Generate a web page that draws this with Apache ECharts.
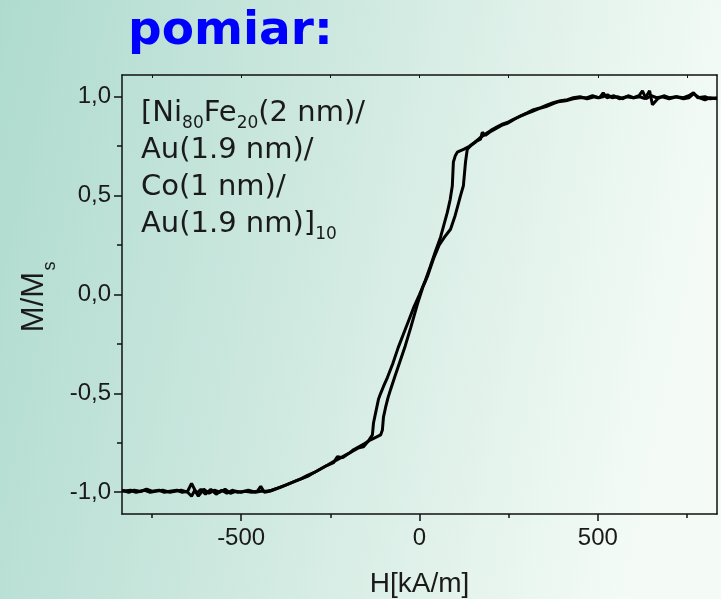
<!DOCTYPE html>
<html lang="pl">
<head>
<meta charset="UTF-8">
<title>pomiar</title>
<script src="https://cdn.jsdelivr.net/npm/echarts@6/dist/echarts.min.js"></script>
<style>
  html, body { margin: 0; padding: 0; }
</style>
</head>
<body>
<div id="main" style="width: 721px; height: 599px;"></div>
<script type="text/javascript">
// pętla histerezy - gałąź malejąca (H od +max do -max)
var hDesc = [834, 815, 800, 785, 768, 755, 740, 720, 700, 685, 668, 653, 645, 632, 618, 600, 585, 570, 555, 540,
  527, 515, 500, 485, 470, 450, 431, 410, 390, 375, 355, 335, 315, 300, 280, 262, 246, 230, 215, 200,
  188, 176, 168, 155, 140, 125, 112, 106, 100, 95, 92, 86, 78, 68, 59, 45, 30, 15, 0, -15,
  -30, -45, -60, -75, -90, -101, -110, -115, -122, -129, -132, -145, -157, -170, -185, -200, -215, -230, -241, -260,
  -280, -300, -314, -335, -350, -370, -390, -405, -420, -435, -445, -455, -470, -490, -510, -525, -540, -555, -570, -585,
  -600, -613, -625, -639, -650, -665, -680, -700, -715, -730, -750, -765, -780, -795, -810, -834];
var mDesc = [0.990, 0.995, 0.985, 0.995, 1.015, 0.995, 0.990, 1.000, 0.995, 1.005, 0.990, 0.960, 1.030, 0.990, 1.000, 0.995, 1.005, 0.990, 1.000, 0.995,
  1.010, 1.000, 0.995, 1.005, 0.995, 0.995, 0.990, 0.980, 0.975, 0.965, 0.950, 0.940, 0.925, 0.915, 0.900, 0.885, 0.870, 0.860, 0.845, 0.830,
  0.815, 0.800, 0.790, 0.770, 0.750, 0.735, 0.725, 0.720, 0.700, 0.670, 0.550, 0.480, 0.415, 0.350, 0.290, 0.220, 0.140, 0.065, 0.000, -0.060,
  -0.130, -0.200, -0.270, -0.350, -0.420, -0.465, -0.505, -0.530, -0.590, -0.650, -0.710, -0.745, -0.770, -0.775, -0.790, -0.805, -0.825, -0.820, -0.850, -0.865,
  -0.885, -0.905, -0.920, -0.935, -0.945, -0.960, -0.975, -0.985, -0.995, -1.000, -0.970, -0.995, -1.000, -0.995, -1.000, -0.990, -1.005, -0.990, -1.010, -0.985,
  -1.010, -0.985, -1.005, -0.955, -0.995, -1.000, -0.990, -0.995, -1.000, -0.990, -0.995, -0.985, -0.995, -1.000, -0.990, -0.995];

// gałąź rosnąca (H od -max do +max)
var hAsc = [-834, -815, -800, -785, -770, -755, -740, -720, -700, -685, -668, -650, -639, -630, -620, -605, -590, -575, -560, -545,
  -530, -515, -500, -480, -460, -445, -430, -415, -400, -385, -370, -350, -330, -314, -295, -275, -255, -241, -225, -210,
  -195, -185, -170, -155, -137, -120, -109, -104, -101, -95, -88, -81, -70, -55, -40, -25, -6, 10, 22, 39,
  55, 70, 87, 100, 109, 115, 123, 129, 134, 145, 160, 171, 176, 185, 200, 215, 230, 246, 265, 285,
  303, 320, 340, 360, 375, 395, 415, 431, 450, 470, 490, 505, 515, 525, 545, 560, 580, 600, 615, 625,
  635, 650, 665, 680, 700, 720, 740, 755, 768, 780, 800, 815, 834];
var mAsc = [-0.990, -1.000, -0.990, -0.995, -0.990, -1.000, -0.995, -0.990, -1.000, -0.995, -0.990, -1.000, -1.020, -0.990, -1.020, -0.985, -1.005, -0.990, -1.000, -0.985,
  -1.005, -0.995, -1.000, -0.990, -1.000, -0.995, -0.995, -0.990, -0.980, -0.970, -0.960, -0.945, -0.930, -0.915, -0.900, -0.880, -0.860, -0.845, -0.830, -0.815,
  -0.800, -0.785, -0.770, -0.755, -0.735, -0.720, -0.710, -0.685, -0.620, -0.570, -0.520, -0.480, -0.420, -0.340, -0.260, -0.170, -0.050, 0.040, 0.090, 0.180,
  0.250, 0.290, 0.330, 0.400, 0.460, 0.500, 0.550, 0.670, 0.735, 0.755, 0.775, 0.785, 0.820, 0.805, 0.825, 0.840, 0.855, 0.865, 0.885, 0.905,
  0.920, 0.935, 0.945, 0.960, 0.970, 0.980, 0.985, 0.995, 1.000, 0.990, 1.000, 0.995, 1.020, 0.995, 1.005, 0.990, 1.000, 0.995, 1.005, 1.030,
  0.990, 1.005, 0.995, 1.000, 0.990, 1.000, 0.995, 1.005, 1.020, 0.995, 1.000, 0.990, 0.995];

// podziałki osi
var xMajor = [-500, 0, 500];
var xMinor = [-750, -250, 250, 750];
var yMajor = [-1, -0.5, 0, 0.5, 1];
var yMinor = [-0.75, -0.25, 0.25, 0.75];

function zip(xs, ys) {
  var out = [];
  for (var i = 0; i < xs.length; i++) out.push([xs[i], ys[i]]);
  return out;
}

var myChart = echarts.init(document.getElementById('main'));

var xMin = -834, xMax = 834, yMin = -1.11, yMax = 1.11;
var axisCol = '#111';
var sans = '"Liberation Sans", Arial, sans-serif';
var verd = '"DejaVu Sans", Verdana, sans-serif';
var tickFont = { fontSize: 24, color: '#1a1a1a', fontFamily: sans };

var option = {
  animation: false,
  backgroundColor: new echarts.graphic.LinearGradient(0, 0, 1, 0.25, [
    { offset: 0, color: '#afdbcf' },
    { offset: 0.45, color: '#cde8df' },
    { offset: 1, color: '#f4fbf6' }
  ]),
  title: {
    text: 'pomiar:',
    left: 123,
    top: 3,
    textStyle: { fontFamily: verd, fontWeight: 'bold', fontSize: 47, color: '#0000ff' }
  },
  grid: { left: 122, right: 4, top: 75, bottom: 85, containLabel: false, outerBoundsMode: 'none' },
  xAxis: [
    {
      type: 'value', position: 'bottom', min: xMin, max: xMax,
      axisLine: { show: true, onZero: false, lineStyle: { color: axisCol, width: 1.5 } },
      axisTick: { show: true, length: 7, customValues: xMajor, lineStyle: { color: axisCol, width: 1.5 } },
      axisLabel: Object.assign({ margin: 12, customValues: xMajor }, tickFont),
      splitLine: { show: false },
      name: 'H[kA/m]', nameLocation: 'middle', nameGap: 56,
      nameTextStyle: { fontSize: 28, color: '#1a1a1a', fontFamily: sans }
    },
    {
      type: 'value', position: 'bottom', min: xMin, max: xMax,
      axisLine: { show: false, onZero: false },
      axisTick: { show: true, length: 4, customValues: xMinor, lineStyle: { color: axisCol, width: 1.5 } },
      axisLabel: { show: false },
      splitLine: { show: false }
    },
    {
      type: 'value', position: 'top', min: xMin, max: xMax,
      axisLine: { show: true, onZero: false, lineStyle: { color: axisCol, width: 1.5 } },
      axisTick: { show: true, inside: true, length: 3, customValues: xMajor.concat(xMinor), lineStyle: { color: axisCol, width: 1 } },
      axisLabel: { show: false },
      splitLine: { show: false }
    }
  ],
  yAxis: [
    {
      type: 'value', position: 'left', min: yMin, max: yMax,
      axisLine: { show: true, onZero: false, lineStyle: { color: axisCol, width: 1.5 } },
      axisTick: { show: true, length: 8, customValues: yMajor, lineStyle: { color: axisCol, width: 1.5 } },
      axisLabel: Object.assign({
        margin: 11, customValues: yMajor,
        formatter: function (v) { return v.toFixed(1).replace('.', ','); }
      }, tickFont),
      splitLine: { show: false }
    },
    {
      type: 'value', position: 'left', min: yMin, max: yMax,
      axisLine: { show: false, onZero: false },
      axisTick: { show: true, length: 5, customValues: yMinor, lineStyle: { color: axisCol, width: 1.5 } },
      axisLabel: { show: false },
      splitLine: { show: false }
    },
    {
      type: 'value', position: 'right', min: yMin, max: yMax,
      axisLine: { show: true, onZero: false, lineStyle: { color: axisCol, width: 1.5 } },
      axisTick: { show: false },
      axisLabel: { show: false },
      splitLine: { show: false }
    }
  ],
  graphic: [
    // opis osi Y: M/M z indeksem dolnym s
    {
      type: 'text', x: 34, y: 302, rotation: Math.PI / 2,
      style: { text: 'M/M', font: '31px ' + sans, fill: '#1a1a1a', align: 'center', verticalAlign: 'middle' }
    },
    {
      type: 'text', x: 50, y: 266, rotation: Math.PI / 2,
      style: { text: 's', font: '18px ' + sans, fill: '#1a1a1a', align: 'center', verticalAlign: 'middle' }
    },
    {
      type: 'text',
      left: 141,
      top: 95,
      style: {
        text: '[Ni{s|80}Fe{s|20}(2 nm)/\nAu(1.9 nm)/\nCo(1 nm)/\nAu(1.9 nm)]{s|10}',
        fill: '#1a1a1a',
        font: '29px ' + verd,
        lineHeight: 37,
        rich: {
          s: { fontSize: 17, fontFamily: verd, fill: '#1a1a1a', verticalAlign: 'bottom', lineHeight: 24 }
        }
      }
    }
  ],
  series: [
    {
      name: 'malejąca', type: 'line', xAxisIndex: 0, yAxisIndex: 0,
      showSymbol: false, symbol: 'none',
      lineStyle: { color: '#000', width: 3 },
      data: zip(hDesc, mDesc)
    },
    {
      name: 'rosnąca', type: 'line', xAxisIndex: 0, yAxisIndex: 0,
      showSymbol: false, symbol: 'none',
      lineStyle: { color: '#000', width: 3 },
      data: zip(hAsc, mAsc)
    }
  ]
};

myChart.setOption(option);
</script>
</body>
</html>
